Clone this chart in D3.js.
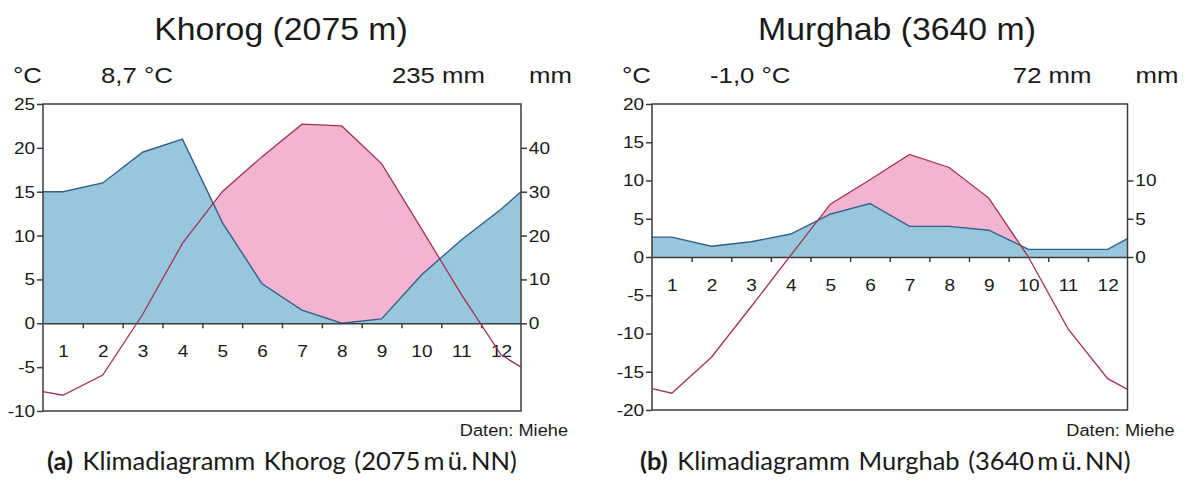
<!DOCTYPE html>
<html>
<head>
<meta charset="utf-8">
<script src="https://cdn.jsdelivr.net/npm/d3@7"></script>
<style>
  body { margin: 0; background: #fff; }
  svg text { font-family: "Liberation Sans", Arial, sans-serif; fill: #1a1a1a; }
  svg text.caption { font-family: Lato, "Noto Sans", sans-serif; word-spacing: 2px; }
</style>
</head>
<body>
<svg id="chart" width="1189" height="482"></svg>
<script>
// month labels
var months = ["1", "2", "3", "4", "5", "6", "7", "8", "9", "10", "11", "12"];

// Khorog (2075 m)
var khorogTemp = [-8.2, -5.9, 1.0, 9.1, 15.0, 19.0, 22.7, 22.5, 18.2, 10.8, 3.3, -3.6];
var khorogPrec = [30, 32, 39, 42, 23, 9, 3, 0, 1, 11, 19, 26];
var khorogTempEdge = [-7.8, -5.0];
var khorogPrecEdge = [30, 30];
var khorogTempTicks = [-10, -5, 0, 5, 10, 15, 20, 25];
var khorogPrecTicks = [0, 10, 20, 30, 40];

// Murghab (3640 m)
var murghabTemp = [-17.8, -13.1, -6.5, 0.2, 6.9, 10.1, 13.4, 11.7, 7.7, 0.0, -9.4, -15.9];
var murghabPrec = [2.6, 1.4, 2.0, 3.0, 5.6, 7.0, 4.0, 4.0, 3.5, 1.0, 1.0, 1.0];
var murghabTempEdge = [-17.2, -17.3];
var murghabPrecEdge = [2.6, 2.4];
var murghabTempTicks = [-20, -15, -10, -5, 0, 5, 10, 15, 20];
var murghabPrecTicks = [0, 5, 10];

var svg = d3.select("#chart");

var blueFill = "#97c7dd", pinkFill = "#f2b4d0";
var blueLine = "#33608c", redLine = "#a3324f", axisCol = "#3c3c3c";

// the lettering in the original is a little wider than Arial
var stretch = 1.12;

function label(g, x, y, str, size, anchor, sx) {
  return g.append("text")
    .attr("transform", `translate(${x},${y}) scale(${sx || stretch},1)`)
    .attr("text-anchor", anchor || "start")
    .attr("font-size", size)
    .text(str);
}

function styleAxis(sel) {
  sel.select(".domain").remove();
  sel.selectAll(".tick line").attr("stroke", axisCol).attr("stroke-width", 1.5);
  sel.selectAll(".tick text")
    .attr("font-size", 17).attr("font-family", null)
    .attr("transform", `scale(${stretch},1)`);
}

function drawDiagram(o) {
  var g = svg.append("g");

  var x = d3.scaleLinear().domain([0, 12]).range([o.left, o.right]);
  var yT = d3.scaleLinear().domain(o.tempDomain).range([o.bottom, o.top]);
  var yP = d3.scaleLinear()
    .domain([o.tempDomain[0] * o.mmPerDeg, o.tempDomain[1] * o.mmPerDeg])
    .range([o.bottom, o.top]);
  var zeroY = yT(0);

  // points at month centres plus the two edge values
  var xs = [0].concat(d3.range(12).map(i => i + 0.5), [12]);
  var tempVals = [o.tempEdge[0]].concat(o.temp, [o.tempEdge[1]]);
  var precVals = [o.precEdge[0]].concat(o.prec, [o.precEdge[1]]);
  var tempPts = xs.map((v, i) => [v, tempVals[i]]);
  var precPts = xs.map((v, i) => [v, precVals[i]]);

  var clipId = "clip-" + o.id;
  svg.append("clipPath").attr("id", clipId)
    .append("rect")
    .attr("x", o.left).attr("y", o.top)
    .attr("width", o.right - o.left).attr("height", zeroY - o.top);

  // arid part: temperature above zero, precipitation is painted over it
  g.append("path")
    .datum(tempPts)
    .attr("clip-path", `url(#${clipId})`)
    .attr("fill", pinkFill)
    .attr("d", d3.area().x(d => x(d[0])).y0(zeroY).y1(d => yT(d[1])));

  g.append("path")
    .datum(precPts)
    .attr("fill", blueFill)
    .attr("d", d3.area().x(d => x(d[0])).y0(zeroY).y1(d => yP(d[1])));

  g.append("path")
    .datum(precPts)
    .attr("fill", "none")
    .attr("stroke", blueLine)
    .attr("stroke-width", 1.4)
    .attr("d", d3.line().x(d => x(d[0])).y(d => yP(d[1])));

  // frame
  g.append("rect")
    .attr("x", o.left).attr("y", o.top)
    .attr("width", o.right - o.left).attr("height", o.bottom - o.top)
    .attr("fill", "none").attr("stroke", axisCol).attr("stroke-width", 1.5);

  // zero line with month ticks
  var monthAxis = g.append("g")
    .attr("transform", `translate(0,${zeroY})`)
    .call(d3.axisBottom(x).tickValues(d3.range(1, 12)).tickSize(5).tickSizeOuter(0).tickFormat(""));
  monthAxis.select(".domain").attr("stroke", axisCol).attr("stroke-width", 1.5);
  monthAxis.selectAll(".tick line").attr("stroke", axisCol).attr("stroke-width", 1.5);

  var monthLabels = g.append("g")
    .attr("transform", `translate(0,${zeroY + 19})`)
    .call(d3.axisBottom(x).tickValues(d3.range(12).map(i => i + 0.5))
      .tickSize(0).tickFormat((d, i) => months[i]));
  styleAxis(monthLabels);

  g.append("path")
    .datum(tempPts)
    .attr("fill", "none")
    .attr("stroke", redLine)
    .attr("stroke-width", 1.3)
    .attr("d", d3.line().x(d => x(d[0])).y(d => yT(d[1])));

  // temperature axis
  var leftAxis = g.append("g")
    .attr("transform", `translate(${o.left},0)`)
    .call(d3.axisLeft(yT).tickValues(o.tempTicks).tickSize(6).tickPadding(1).tickFormat(d => d));
  styleAxis(leftAxis);

  // precipitation axis
  var rightAxis = g.append("g")
    .attr("transform", `translate(${o.right},0)`)
    .call(d3.axisRight(yP).tickValues(o.precTicks).tickSize(6).tickPadding(1).tickFormat(d => d));
  styleAxis(rightAxis);

  // titles and header
  label(g, o.titleX, 40, o.title, 31, "middle", 1.09);
  label(g, o.left - 30, 83, "°C", 23);
  label(g, o.left + 58, 83, o.meanTemp, 23);
  label(g, o.right - 36, 83, o.sumPrec, 23, "end");
  label(g, o.right + 8, 83, "mm", 23);
  label(g, o.right + 47, 436, "Daten: Miehe", 17, "end", 1.07);

  var cap = g.append("text").attr("class", "caption")
    .attr("x", o.captionX).attr("y", 470).attr("font-size", 25.5);
  cap.append("tspan").attr("font-weight", "bold").text(o.captionTag);
  cap.append("tspan").attr("dx", 1).text(" " + o.caption);
}

drawDiagram({
  id: "khorog", left: 43, right: 521, top: 104, bottom: 411,
  tempDomain: [-10, 25], mmPerDeg: 2,
  temp: khorogTemp, prec: khorogPrec, tempEdge: khorogTempEdge, precEdge: khorogPrecEdge,
  tempTicks: khorogTempTicks, precTicks: khorogPrecTicks,
  title: "Khorog (2075 m)", titleX: 281, meanTemp: "8,7 °C", sumPrec: "235 mm",
  captionX: 47, captionTag: "(a)", caption: "Klimadiagramm Khorog (2075\u2009m\u2009ü.\u2009NN)"
});

drawDiagram({
  id: "murghab", left: 652, right: 1127.5, top: 104, bottom: 410,
  tempDomain: [-20, 20], mmPerDeg: 1,
  temp: murghabTemp, prec: murghabPrec, tempEdge: murghabTempEdge, precEdge: murghabPrecEdge,
  tempTicks: murghabTempTicks, precTicks: murghabPrecTicks,
  title: "Murghab (3640 m)", titleX: 897, meanTemp: "-1,0 °C", sumPrec: "72 mm",
  captionX: 640, captionTag: "(b)", caption: "Klimadiagramm Murghab (3640\u2009m\u2009ü.\u2009NN)"
});
</script>
</body>
</html>
